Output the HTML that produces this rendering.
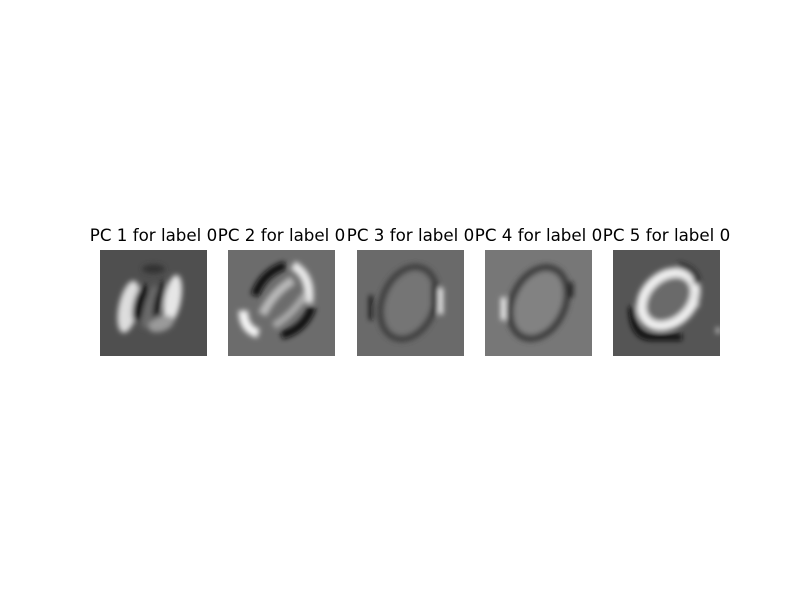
<!DOCTYPE html>
<html><head><meta charset="utf-8"><style>
body{margin:0;background:#fff;}
svg{display:block}
text{font-family:"DejaVu Sans","Liberation Sans",sans-serif;font-size:16.7px;fill:#000}
</style></head><body>
<svg id="fig" width="800" height="600">
<defs><filter id="b" x="-20%" y="-20%" width="140%" height="140%"><feGaussianBlur stdDeviation="0.7"/></filter>
<clipPath id="c"><rect x="0" y="0" width="28" height="28"/></clipPath></defs>
</svg>
<script>
const titles=["PC 1 for label 0","PC 2 for label 0","PC 3 for label 0","PC 4 for label 0","PC 5 for label 0"];
const bgLevels=["#4f4f4f","#6c6c6c","#6a6a6a","#777777","#555555"];
const lefts=[100,228,357,485,613];
const shapes=[
`<ellipse cx="7.5" cy="15" rx="2.6" ry="7" transform="rotate(12 7.5 15)" fill="#dddddd"/>
<ellipse cx="10.5" cy="14" rx="1.6" ry="5" transform="rotate(15 10.5 14)" fill="#0a0a0a"/>
<ellipse cx="13" cy="15" rx="1.5" ry="6" transform="rotate(15 13 15)" fill="#6a6a6a"/>
<ellipse cx="15.5" cy="13" rx="1.1" ry="5" transform="rotate(15 15.5 13)" fill="#151515"/>
<ellipse cx="19" cy="13" rx="2.2" ry="6.5" transform="rotate(10 19 13)" fill="#e6e6e6"/>
<ellipse cx="16" cy="19.5" rx="3.5" ry="2" transform="rotate(-20 16 19.5)" fill="#9a9a9a"/>
<ellipse cx="14" cy="5" rx="3" ry="1.2" fill="#333"/>`,
`<path d="M7 12 Q9 6 15 4" stroke="#111" stroke-width="2.2" fill="none"/>
<path d="M17 4 Q22 7 21 14" stroke="#e8e8e8" stroke-width="2.4" fill="none"/>
<path d="M4 16 Q4 21 8 22" stroke="#f4f4f4" stroke-width="2.5" fill="none"/>
<path d="M14 22.5 Q20 21 22 15" stroke="#111" stroke-width="2.2" fill="none"/>
<path d="M9 17 Q12 11 17 8" stroke="#b8b8b8" stroke-width="2.4" fill="none"/>
<path d="M12 20 Q17 17 20 12" stroke="#a8a8a8" stroke-width="2" fill="none"/>`,
`<ellipse cx="13.5" cy="14" rx="6.8" ry="9.8" transform="rotate(22 13.5 14)" stroke="#3c3c3c" stroke-width="1.7" fill="#747474"/>
<rect x="3.2" y="12" width="0.9" height="6.5" fill="#111"/>
<rect x="19.5" y="9" width="1" height="8" fill="#222"/>
<rect x="21.3" y="10" width="1.2" height="7" fill="#f2f2f2"/>`,
`<ellipse cx="14" cy="14" rx="6.8" ry="9.8" transform="rotate(25 14 14)" stroke="#3a3a3a" stroke-width="1.8" fill="#828282"/>
<rect x="4.2" y="12.5" width="1.2" height="6" fill="#fafafa"/>
<rect x="22" y="8.5" width="1" height="4" fill="#111"/>`,
`<path d="M5 15 Q5 23 10 23 L18 23" stroke="#111" stroke-width="1.8" fill="none"/>
<ellipse cx="14.5" cy="13" rx="6" ry="8" transform="rotate(45 14.5 13)" stroke="#eeeeee" stroke-width="2.6" fill="#6a6a6a"/>
<path d="M17 4 Q22 5 22 9" stroke="#222" stroke-width="1.5" fill="none"/>
<rect x="21.5" y="11" width="1" height="4" fill="#ddd"/>
<rect x="27" y="20.5" width="1" height="1.5" fill="#ccc"/>`
];
const NS="http://www.w3.org/2000/svg";
const fig=document.getElementById('fig');
titles.forEach((t,i)=>{
  const x=lefts[i];
  const tx=document.createElementNS(NS,'text');
  tx.setAttribute('x',x+53.5);tx.setAttribute('y',241);tx.setAttribute('text-anchor','middle');
  tx.textContent=t;
  
  
  fig.appendChild(tx);
  const s=document.createElementNS(NS,'svg');
  s.setAttribute('x',x);s.setAttribute('y',250);s.setAttribute('width',107);s.setAttribute('height',106);
  s.setAttribute('viewBox','0 0 28 28');s.setAttribute('preserveAspectRatio','none');
  
  
  s.innerHTML=`<rect x="0" y="0" width="28" height="28" fill="${bgLevels[i]}"/><g clip-path="url(#c)" filter="url(#b)">${shapes[i]}</g>`;
  fig.appendChild(s);
});
</script>
</body></html>
